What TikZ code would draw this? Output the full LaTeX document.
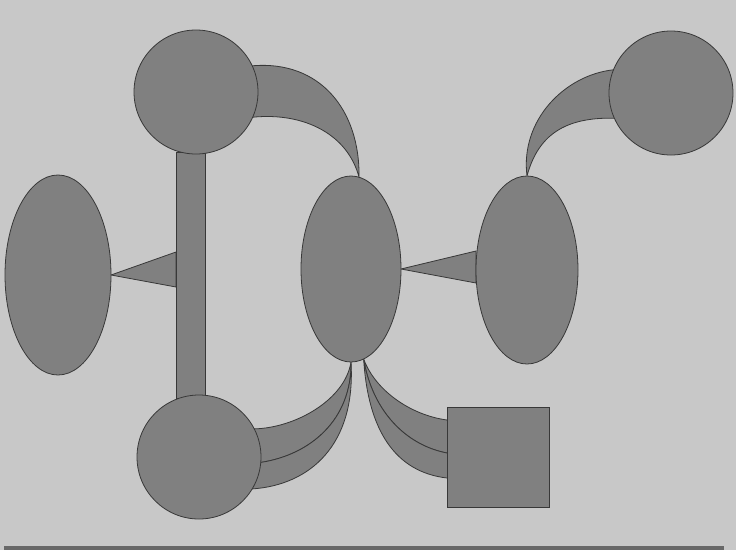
\documentclass[tikz,border=0pt]{standalone}
\usetikzlibrary{shapes.geometric,backgrounds,calc}
\definecolor{bgc}{HTML}{C8C8C8}
\definecolor{shapec}{HTML}{808080}
\definecolor{edgec}{HTML}{383838}
\definecolor{linec}{HTML}{686868}
\begin{document}
\begin{tikzpicture}[x=1pt,y=-1pt,
  blob/.style={draw=edgec,fill=shapec,line width=0.8pt,inner sep=0pt,outer sep=0pt},
  disc/.style={blob,circle,minimum size=124pt},
  oval/.style={blob,ellipse},
  boxnode/.style={blob,rectangle},
  conn/.style={draw=edgec,fill=shapec,line width=0.8pt,line join=round}]
\useasboundingbox (0,0) rectangle (736,550);

% nodes
\node[boxnode,minimum width=29pt,minimum height=246pt] (bar) at (190.5,275) {};
\node[disc] (A) at (196,92) {};
\node[disc] (B) at (671,93) {};
\node[disc] (F) at (199,457) {};
\node[oval,minimum width=106pt,minimum height=200pt] (C) at (58,275) {};
\node[oval,minimum width=100pt,minimum height=186pt] (D) at (351,269) {};
\node[oval,minimum width=102pt,minimum height=188pt] (E) at (527,270) {};
\node[boxnode,minimum width=102pt,minimum height=100pt] (G) at (498,457) {};

\begin{pgfonlayer}{background}
  \fill[bgc] (0,0) rectangle (736,550);
  \fill[linec] (4,546) rectangle (724,550);
  % triangles
  \path[conn] (C.east) -- ($(bar.west)+(0,-23)$) -- ($(bar.west)+(0,12)$) -- cycle;
  \path[conn] (D.east) -- ($(E.west)+(0,-19)$) -- ($(E.west)+(0,13)$) -- cycle;
  % A -> D
  \path[conn] (A.center) -- (A.25) .. controls (320,60) and (360,110) .. (D.85)
     .. controls (348,135) and (305,112) .. (A.-24) -- cycle;
  % E -> B
  \path[conn] (B.center) -- (B.158) .. controls (565,75) and (520,120) .. (E.north)
     .. controls (538,135) and (565,117) .. (B.204) -- cycle;
  % D -> F (two)
  \path[conn] (F.center) -- (F.27) .. controls (295,428) and (345,400) .. (D.south)
     .. controls (352,420) and (310,455) .. (F.-5) -- cycle;
  \path[conn] (F.center) -- (F.-5) .. controls (310,455) and (352,420) .. (D.south)
     .. controls (356,445) and (310,485) .. (F.-31) -- cycle;
  % D -> G (two)
  \path[conn] (G.center) -- ($(G.west)+(0,-37)$) .. controls (410,415) and (375,390) .. (D.-82)
     .. controls (372,410) and (405,445) .. ($(G.west)+(0,-4)$) -- cycle;
  \path[conn] (G.center) -- ($(G.west)+(0,-4)$) .. controls (405,445) and (372,410) .. (D.-82)
     .. controls (368,430) and (395,472) .. ($(G.west)+(0,21)$) -- cycle;
\end{pgfonlayer}
\end{tikzpicture}
\end{document}
